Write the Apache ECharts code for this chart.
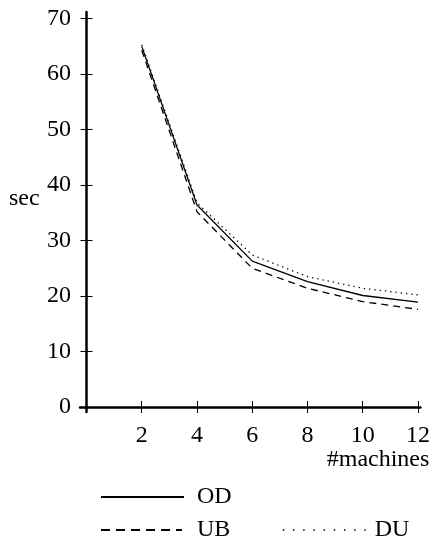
<!DOCTYPE html>
<html>
<head>
<meta charset="utf-8">
<script src="https://cdn.jsdelivr.net/npm/echarts@6/dist/echarts.min.js"></script>
<style>
html,body{margin:0;padding:0;background:#fff;}
#chart{width:433px;height:544px;}
</style>
</head>
<body>
<div id="chart"></div>
<script>
const machines = [2, 4, 6, 8, 10, 12];
const odValues = [65, 36.4, 26.3, 22.6, 20.1, 18.9];
const ubValues = [64.3, 35.2, 25.0, 21.4, 19.0, 17.6];
const duValues = [65.3, 36.8, 27.4, 23.5, 21.4, 20.2];
const xTicks = [2, 4, 6, 8, 10, 12];
const yTicks = [0, 10, 20, 30, 40, 50, 60, 70];

const FONT = "'Liberation Serif', 'Times New Roman', serif";
const FS = 24;
const pairs = vals => machines.map((m, i) => [m, vals[i]]);

const chart = echarts.init(document.getElementById('chart'), null, {renderer: 'canvas'});

const baseX = {
  type: 'value', min: -0.235, max: 12.085, position: 'bottom', gridIndex: 0,
  splitLine: {show: false},
  axisLine: {onZero: true, lineStyle: {color: '#000', width: 2.5}}
};
const baseY = {
  type: 'value', min: -0.9, max: 71.2, position: 'left', gridIndex: 0,
  splitLine: {show: false},
  axisLine: {onZero: true, lineStyle: {color: '#000', width: 2.5}}
};
const legendText = pad => ({fontFamily: FONT, fontSize: FS, color: '#000', padding: [0, 0, 0, pad]});

chart.setOption({
  animation: false,
  backgroundColor: '#fff',
  textStyle: {fontFamily: FONT, color: '#000'},
  grid: {left: 80, right: 12, top: 12, bottom: 132, containLabel: false},
  xAxis: [
    Object.assign({}, baseX, {
      name: '#machines', nameLocation: 'end', nameGap: 9,
      nameTextStyle: {fontFamily: FONT, fontSize: FS, color: '#000', align: 'right', verticalAlign: 'top', padding: [41, 0, 0, 0]},
      axisTick: {show: true, inside: false, length: 6, customValues: xTicks, lineStyle: {color: '#000', width: 1}},
      axisLabel: {show: true, customValues: xTicks, margin: 12, fontFamily: FONT, fontSize: FS, color: '#000'}
    }),
    Object.assign({}, baseX, {
      axisLine: {show: false, onZero: true},
      axisTick: {show: true, inside: true, length: 6, customValues: xTicks, lineStyle: {color: '#000', width: 1}},
      axisLabel: {show: false}
    })
  ],
  yAxis: [
    Object.assign({}, baseY, {
      name: 'sec', nameLocation: 'middle', nameGap: 71, nameRotate: 0,
      nameTextStyle: {fontFamily: FONT, fontSize: FS, color: '#000', align: 'left', verticalAlign: 'bottom', padding: [0, 0, 1, 0]},
      axisTick: {show: true, inside: false, length: 6, customValues: yTicks, lineStyle: {color: '#000', width: 1}},
      axisLabel: {show: true, customValues: yTicks, margin: 9, fontFamily: FONT, fontSize: FS, color: '#000'}
    }),
    Object.assign({}, baseY, {
      axisLine: {show: false, onZero: true},
      axisTick: {show: true, inside: true, length: 6, customValues: yTicks, lineStyle: {color: '#000', width: 1}},
      axisLabel: {show: false}
    })
  ],
  legend: [
    {data: ['OD'], left: 100, top: 485, padding: 0, itemWidth: 83, itemHeight: 14,
     itemStyle: {opacity: 0}, lineStyle: {width: 2}, textStyle: legendText(8)},
    {data: ['UB'], left: 100, top: 518, padding: 0, itemWidth: 81, itemHeight: 14,
     itemStyle: {opacity: 0}, lineStyle: {width: 2, type: [9, 6]}, textStyle: legendText(10)},
    {data: ['DU'], left: 282, top: 518, padding: 0, itemWidth: 83, itemHeight: 14,
     itemStyle: {opacity: 0}, lineStyle: {width: 1.5, type: [1.5, 8.7]}, textStyle: legendText(4)}
  ],
  series: [
    {name: 'OD', type: 'line', xAxisIndex: 0, yAxisIndex: 0, data: pairs(odValues), symbol: 'none',
     lineStyle: {color: '#000', width: 1.3, type: 'solid'}, itemStyle: {color: '#000'}},
    {name: 'UB', type: 'line', xAxisIndex: 0, yAxisIndex: 0, data: pairs(ubValues), symbol: 'none',
     lineStyle: {color: '#000', width: 1.3, type: [7, 5]}, itemStyle: {color: '#000'}},
    {name: 'DU', type: 'line', xAxisIndex: 0, yAxisIndex: 0, data: pairs(duValues), symbol: 'none',
     lineStyle: {color: '#000', width: 1.3, type: [1.3, 4]}, itemStyle: {color: '#000'}}
  ]
});
</script>
</body>
</html>
